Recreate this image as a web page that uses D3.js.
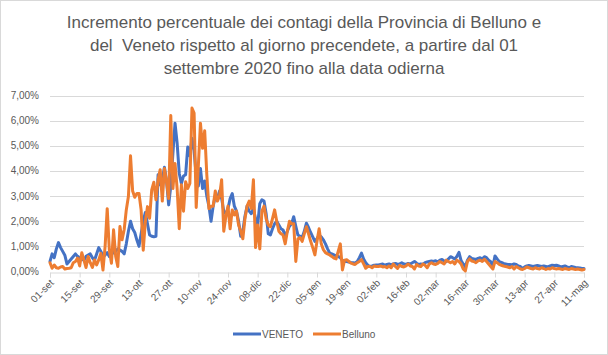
<!DOCTYPE html>
<html><head><meta charset="utf-8">
<script src="https://cdn.jsdelivr.net/npm/d3@7"></script>
<style>body{margin:0;background:#fff}svg{display:block}text{font-family:"Liberation Sans",Arial,sans-serif}</style>
</head><body><svg id="c" width="608" height="355"></svg>
<script>
const startDate = "2020-09-01";
const endDate = "2021-05-11";
const titleLines = ["Incremento percentuale dei contagi della Provincia di Belluno e","del  Veneto rispetto al giorno precendete, a partire dal 01","settembre 2020 fino alla data odierna"];
const tickLabels = ["01-set","15-set","29-set","13-ott","27-ott","10-nov","24-nov","08-dic","22-dic","05-gen","19-gen","02-feb","16-feb","02-mar","16-mar","30-mar","13-apr","27-apr","11-mag"];
const yTicks = [0,0.01,0.02,0.03,0.04,0.05,0.06,0.07];
const seriesNames = ["VENETO","Belluno"];
// daily percentage increase (%), from 01-set-2020
const veneto = [0.40,0.70,0.55,0.90,1.15,0.95,0.80,0.65,0.30,0.40,
0.50,0.60,0.70,0.60,0.55,0.50,0.45,0.60,0.65,0.70,
0.55,0.45,0.70,0.95,0.80,0.60,0.65,0.75,0.60,0.70,
0.75,0.80,0.90,0.85,0.80,0.70,1.10,1.60,2.00,1.70,
1.55,1.25,1.00,1.50,2.00,2.35,1.90,1.45,1.40,1.38,
1.40,3.85,3.45,3.65,4.15,3.60,2.65,3.40,4.70,5.90,
5.10,3.90,3.50,3.80,3.85,4.95,4.60,5.30,4.80,3.80,
3.40,4.10,3.30,3.60,3.00,2.60,2.00,2.60,3.00,2.90,
3.20,2.90,2.40,2.30,2.50,2.90,3.10,2.60,2.40,2.00,
1.40,1.60,2.20,2.60,2.40,2.30,2.50,2.10,1.85,2.70,
2.85,2.80,2.30,1.50,1.45,1.70,1.90,2.00,1.85,1.70,
1.65,1.40,1.60,1.80,1.90,2.18,1.80,1.45,1.40,1.35,
1.60,1.92,1.75,1.55,1.38,1.20,1.30,1.45,1.38,1.26,
1.10,0.90,0.73,0.70,0.66,0.62,0.60,0.55,0.45,0.40,
0.40,0.38,0.36,0.35,0.33,0.40,0.55,0.73,0.50,0.35,
0.25,0.20,0.22,0.25,0.26,0.26,0.28,0.30,0.25,0.28,
0.30,0.26,0.30,0.32,0.28,0.30,0.35,0.30,0.28,0.32,
0.30,0.35,0.40,0.33,0.28,0.30,0.28,0.35,0.38,0.40,
0.42,0.40,0.43,0.38,0.45,0.48,0.42,0.39,0.50,0.59,
0.55,0.50,0.60,0.76,0.43,0.30,0.19,0.45,0.59,0.52,
0.50,0.48,0.52,0.55,0.50,0.59,0.55,0.45,0.39,0.19,
0.62,0.50,0.39,0.36,0.32,0.30,0.28,0.28,0.26,0.30,
0.28,0.22,0.20,0.12,0.18,0.22,0.24,0.22,0.20,0.22,
0.24,0.22,0.20,0.22,0.20,0.18,0.22,0.25,0.24,0.25,
0.22,0.18,0.20,0.22,0.18,0.15,0.20,0.18,0.16,0.15,
0.14,0.12,0.12];
const belluno = [0.35,0.13,0.26,0.15,0.13,0.18,0.20,0.10,0.12,0.13,
0.15,0.35,0.40,0.53,0.22,0.75,0.46,0.16,0.60,0.35,
0.16,0.46,0.26,0.46,0.72,0.06,0.99,2.50,0.86,0.33,
1.66,0.60,0.20,1.79,1.26,1.66,2.45,2.98,4.60,3.20,
2.95,3.10,3.10,2.45,0.85,1.99,2.58,2.12,3.25,3.55,
2.85,3.65,4.05,2.80,4.10,3.57,2.90,6.20,3.30,4.30,
3.30,1.70,3.45,2.40,3.57,3.30,3.50,6.50,6.30,2.55,
4.20,5.90,4.90,5.60,3.85,2.50,2.60,2.60,3.20,2.80,
3.00,3.65,1.60,2.20,2.60,1.70,2.45,2.25,2.40,1.85,
1.60,1.30,2.10,2.60,2.80,2.50,3.65,0.95,1.85,0.90,
2.40,2.60,2.10,1.85,1.78,2.10,2.45,2.00,1.60,1.50,
1.45,1.10,1.60,2.00,1.90,1.90,0.40,1.30,1.35,1.20,
1.50,1.78,1.50,1.20,0.95,0.66,1.20,1.70,1.10,0.87,
0.75,0.70,0.66,0.60,0.53,0.50,0.80,1.10,0.06,0.45,
0.47,0.40,0.33,0.30,0.28,0.35,0.40,0.47,0.30,0.13,
0.20,0.20,0.15,0.22,0.20,0.20,0.22,0.18,0.20,0.15,
0.22,0.15,0.30,0.20,0.12,0.25,0.20,0.18,0.22,0.30,
0.22,0.20,0.10,0.28,0.22,0.20,0.30,0.25,0.15,0.30,
0.35,0.30,0.28,0.32,0.40,0.35,0.30,0.45,0.40,0.35,
0.40,0.30,0.45,0.40,0.30,0.10,0.02,0.40,0.50,0.42,
0.40,0.35,0.42,0.45,0.40,0.48,0.40,0.30,0.20,0.10,
0.40,0.35,0.28,0.25,0.22,0.20,0.18,0.15,0.20,0.10,
0.20,0.15,0.10,0.08,0.12,0.18,0.15,0.12,0.10,0.15,
0.12,0.10,0.15,0.12,0.08,0.12,0.10,0.15,0.12,0.10,
0.12,0.10,0.08,0.12,0.10,0.08,0.12,0.10,0.08,0.10,
0.08,0.06,0.08];
const colors = ["#4472C4","#ED7D31"];

const svg = d3.select("#c");
svg.append("rect").attr("x",0.5).attr("y",0.5).attr("width",607).attr("height",354)
  .attr("fill","#fff").attr("stroke","#d9d9d9");

const parse = d3.utcParse("%Y-%m-%d");
const t0 = parse(startDate), t1 = parse(endDate);
const dates = d3.utcDay.range(t0, d3.utcDay.offset(t1,1));
const x = d3.scaleUtc().domain([t0,t1]).range([50,584]);
const y = d3.scaleLinear().domain([0,0.07]).range([271.5,95.5]);

// title
svg.append("g").selectAll("text").data(titleLines).join("text")
  .attr("x",304).attr("y",(d,i)=>28+i*23).attr("text-anchor","middle")
  .attr("xml:space","preserve").style("white-space","pre")
  .attr("font-size",17).attr("fill","#595959").text(d=>d);

// grid
svg.append("g").selectAll("line").data(yTicks.slice(1)).join("line")
  .attr("x1",50).attr("x2",584).attr("y1",d=>Math.round(y(d))+0.5).attr("y2",d=>Math.round(y(d))+0.5)
  .attr("stroke","#d9d9d9").attr("stroke-width",1);

// y axis labels
const fmt = d => d3.format(".2f")(d*100).replace(".",",")+"%";
svg.append("g").selectAll("text").data(yTicks).join("text")
  .attr("x",39).attr("y",d=>y(d)+3.5).attr("text-anchor","end")
  .attr("font-size",10).attr("fill","#595959").text(fmt);

// x axis
const tickDates = tickLabels.map((l,i)=>d3.utcDay.offset(t0,i*14));
const xAxis = d3.axisBottom(x).tickValues(tickDates).tickSize(5).tickFormat((d,i)=>tickLabels[i]);
const gx = svg.append("g").attr("transform",`translate(0,${Math.round(y(0))+0.5})`).call(xAxis);
gx.select(".domain").attr("stroke","#d9d9d9");
gx.selectAll(".tick line").attr("stroke","#d9d9d9");
gx.selectAll(".tick text").attr("font-size",10).attr("fill","#595959")
  .attr("font-family","Liberation Sans, Arial, sans-serif")
  .attr("text-anchor","end").attr("dy",null).attr("y",null)
  .attr("transform","translate(4,11) rotate(-45)");

// lines
const line = d3.line().x((d,i)=>x(dates[i])).y(d=>y(d/100)).curve(d3.curveLinear);
[veneto,belluno].forEach((s,k)=>{
  svg.append("path").datum(s).attr("d",line).attr("fill","none")
    .attr("stroke",colors[k]).attr("stroke-width",3).attr("stroke-linejoin","round").attr("stroke-linecap","round");
});

// legend
const leg = svg.append("g");
const legX = [233,313];
seriesNames.forEach((n,k)=>{
  leg.append("line").attr("x1",legX[k]).attr("x2",legX[k]+28).attr("y1",334).attr("y2",334)
    .attr("stroke",colors[k]).attr("stroke-width",3);
  leg.append("text").attr("x",legX[k]+29).attr("y",337.5).attr("font-size",10).attr("fill","#595959").text(n);
});
</script></body></html>
